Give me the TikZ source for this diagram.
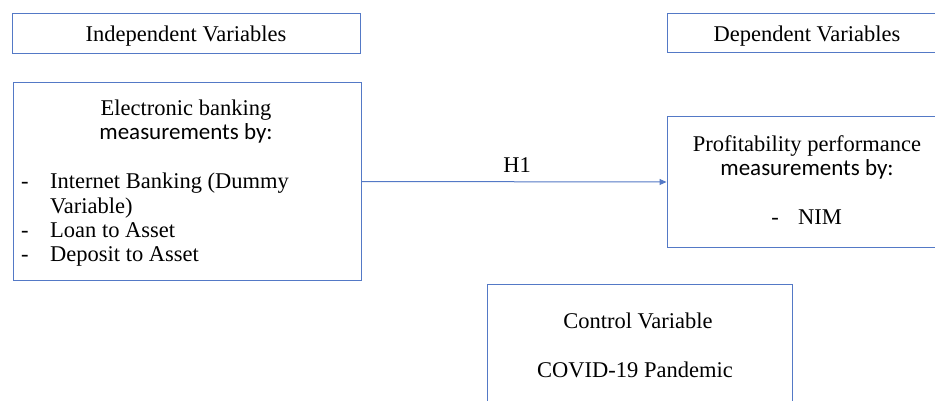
\documentclass[tikz,border=0pt]{standalone}
\usepackage{fontspec}
\setmainfont{Liberation Serif}
\newfontfamily\calib{Carlito}
\usetikzlibrary{arrows.meta}
\definecolor{boxblue}{HTML}{5479C6}
\tikzset{
  box/.style={draw=boxblue, line width=1pt, rectangle, inner sep=0pt, fill=none},
  txt/.style={inner sep=0pt, anchor=base, font=\fontsize{22.5}{24}\selectfont},
  ltxt/.style={inner sep=0pt, anchor=base west, font=\fontsize{22.5}{24}\selectfont},
  stxt/.style={inner sep=0pt, anchor=base, font=\calib\fontsize{23}{24}\selectfont},
  link/.style={draw=boxblue, line width=1pt, -{Triangle[length=7pt,width=6pt]}}
}
\begin{document}
\begin{tikzpicture}[x=1pt,y=-1pt]
\clip (0,0) rectangle (935,401);
\fill[white] (0,0) rectangle (935,401);
% boxes
\node[box, minimum width=348pt, minimum height=40pt] (indep) at (186.5,34) {};
\node[box, minimum width=348pt, minimum height=197pt] (elec) at (187,181.5) {};
\node[box, minimum width=280pt, minimum height=39pt] (dep) at (807,33.5) {};
\node[box, minimum width=280pt, minimum height=130pt] (prof) at (807,182) {};
\node[box, minimum width=305pt, minimum height=130pt] (ctrl) at (639.5,349) {};
% texts
\node[txt] (tindep) at (186,41.5) {Independent Variables};
\node[txt] (tel1) at (186,116) {Electronic banking};
\node[stxt] (tel2) at (186,140) {measurements by:};
\node[ltxt] (d1) at (21,189) {-};
\node[ltxt] (l1) at (50,189) {Internet Banking (Dummy};
\node[ltxt] (l1b) at (50,213) {Variable)};
\node[ltxt] (d2) at (21,237) {-};
\node[ltxt] (l2) at (50,237) {Loan to Asset};
\node[ltxt] (d3) at (21,261) {-};
\node[ltxt] (l3) at (50,261) {Deposit to Asset};
\node[txt] (tdep) at (807,41.5) {Dependent Variables};
\node[txt] (tp1) at (807,152) {Profitability performance};
\node[stxt] (tp2) at (807,175.5) {measurements by:};
\node[txt] (dn) at (775,225) {-};
\node[txt] (tnim) at (820,225) {NIM};
\node[txt] (tc1) at (638,328.5) {Control Variable};
\node[txt] (tc2) at (635,377) {COVID-19 Pandemic};
% connector
\draw[link] (elec.east) -- (prof.west);
\node[txt] (h1) at (517,172.5) {H1};
\end{tikzpicture}
\end{document}
